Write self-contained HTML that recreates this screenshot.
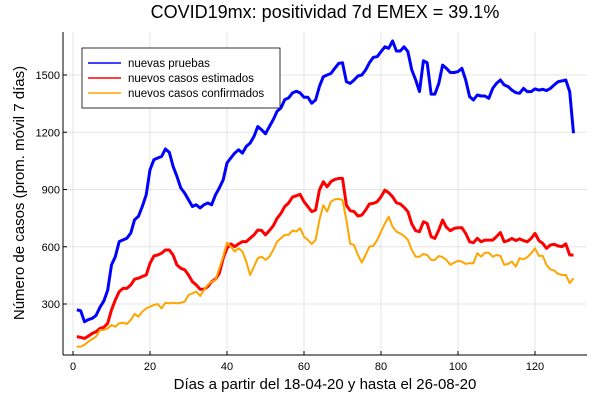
<!DOCTYPE html>
<html><head><meta charset="utf-8"><style>
body{margin:0;background:#fff}
svg{font-family:"Liberation Sans","DejaVu Sans",sans-serif}
</style></head><body>
<svg id="chart" width="600" height="400">
<text x="325" y="18" text-anchor="middle" font-size="18">COVID19mx: positividad 7d EMEX = 39.1%</text>
<g id="grid"></g>
<g id="ticks"></g>
<g id="series"></g>
<line x1="63" y1="32" x2="63" y2="355" stroke="#000"/>
<line x1="63" y1="355" x2="587" y2="355" stroke="#000"/>
<text x="325" y="389" text-anchor="middle" font-size="15">Días a partir del 18-04-20 y hasta el 26-08-20</text>
<text transform="translate(24,193) rotate(-90)" text-anchor="middle" font-size="15">Número de casos (prom. móvil 7 días)</text>
<g>
<rect x="82" y="48" width="198" height="60" fill="#fff" stroke="#000" stroke-width="0.8"/>
<g><line x1="88" y1="63" x2="121" y2="63" stroke="#0000ff" stroke-width="1.5"/><text x="128" y="67" font-size="11.5">nuevas pruebas</text></g>
<g><line x1="88" y1="78" x2="121" y2="78" stroke="#ff0000" stroke-width="1.5"/><text x="128" y="82" font-size="11.5">nuevos casos estimados</text></g>
<g><line x1="88" y1="93" x2="121" y2="93" stroke="#ffa500" stroke-width="1.5"/><text x="128" y="97" font-size="11.5">nuevos casos confirmados</text></g>
</g>
</svg>
<script>
const xTicks=[0,20,40,60,80,100,120];
const yTicks=[300,600,900,1200,1500];
const pruebas=[269,265,207,218,225,240,283,315,373,505,548,627,636,645,672,742,759,811,872,1003,1056,1065,1073,1112,1095,1021,969,908,881,846,811,820,803,820,829,820,872,908,951,1039,1065,1091,1108,1091,1126,1143,1178,1230,1213,1192,1230,1266,1310,1327,1371,1380,1406,1415,1406,1383,1383,1352,1369,1439,1491,1500,1508,1535,1561,1564,1465,1456,1474,1495,1500,1526,1564,1592,1596,1622,1648,1640,1678,1626,1626,1648,1622,1526,1474,1413,1575,1564,1400,1400,1456,1552,1535,1513,1513,1518,1535,1474,1387,1369,1395,1390,1390,1378,1430,1456,1474,1448,1439,1421,1408,1404,1430,1413,1413,1427,1421,1425,1418,1430,1448,1465,1469,1474,1413,1195];
const estimados=[129,125,120,132,146,155,172,178,199,269,321,365,382,382,400,430,435,444,452,513,552,557,566,583,583,557,505,487,479,452,417,400,377,377,391,417,430,461,540,592,615,601,615,627,627,645,662,688,685,662,685,709,749,775,811,829,860,867,875,836,810,784,792,897,941,914,941,953,958,958,818,789,784,761,766,792,824,827,836,862,897,883,862,831,824,806,784,719,684,679,731,722,653,644,688,740,702,684,696,700,700,670,626,621,644,626,635,635,635,653,674,626,632,644,632,641,632,626,644,670,632,618,592,609,613,604,601,615,557,557];
const confirmados=[77,77,86,103,116,129,164,164,172,190,181,199,202,195,216,248,234,260,277,286,295,300,277,307,303,307,303,307,312,347,356,365,342,373,400,417,426,487,548,622,601,575,592,575,522,452,496,540,548,531,548,583,627,645,662,662,685,680,697,653,636,615,636,740,818,784,836,848,850,845,740,615,609,557,517,557,601,604,636,679,722,757,705,679,670,656,636,583,548,548,562,557,531,531,552,545,531,505,517,526,522,510,514,514,566,548,569,569,548,557,552,505,510,522,496,540,534,545,566,592,552,552,505,482,475,458,452,452,409,435];
const NS='http://www.w3.org/2000/svg';
const L=63,R=587,T=32,B=355;
function xs(d){return 73+d*3.85;}
function ys(v){return 304-(v-300)*57.25/300;}
const grid=document.getElementById('grid'),ticks=document.getElementById('ticks'),ser=document.getElementById('series');
xTicks.forEach(t=>{
 const g=document.createElementNS(NS,'line');
 
 
 g.setAttribute('x1',xs(t));g.setAttribute('x2',xs(t));g.setAttribute('y1',T);g.setAttribute('y2',B);
 g.setAttribute('stroke','#000');g.setAttribute('stroke-opacity','0.1');grid.appendChild(g);
 const k=document.createElementNS(NS,'line');
 
 
 k.setAttribute('x1',xs(t));k.setAttribute('x2',xs(t));k.setAttribute('y1',B);k.setAttribute('y2',B-4);k.setAttribute('stroke','#000');ticks.appendChild(k);
 const tx=document.createElementNS(NS,'text');
 
 
 tx.setAttribute('x',xs(t));tx.setAttribute('y',370);tx.setAttribute('text-anchor','middle');tx.setAttribute('font-size','11');tx.textContent=t;ticks.appendChild(tx);
});
yTicks.forEach(t=>{
 const g=document.createElementNS(NS,'line');
 
 
 g.setAttribute('x1',L);g.setAttribute('x2',R);g.setAttribute('y1',ys(t));g.setAttribute('y2',ys(t));
 g.setAttribute('stroke','#000');g.setAttribute('stroke-opacity','0.1');grid.appendChild(g);
 const k=document.createElementNS(NS,'line');
 
 
 k.setAttribute('x1',L);k.setAttribute('x2',L+4);k.setAttribute('y1',ys(t));k.setAttribute('y2',ys(t));k.setAttribute('stroke','#000');ticks.appendChild(k);
 const tx=document.createElementNS(NS,'text');
 
 
 tx.setAttribute('x',L-3);tx.setAttribute('y',ys(t)+4);tx.setAttribute('text-anchor','end');tx.setAttribute('font-size','11');tx.textContent=t;ticks.appendChild(tx);
});
function draw(arr,color,w,name){
 const p=document.createElementNS(NS,'polyline');
 
 
 p.setAttribute('points',arr.map((v,i)=>xs(i+1).toFixed(1)+','+ys(v).toFixed(1)).join(' '));
 p.setAttribute('fill','none');p.setAttribute('stroke',color);p.setAttribute('stroke-width',w);p.setAttribute('stroke-linejoin','round');
 ser.appendChild(p);
}
draw(pruebas,'#0000ff',3,'line-nuevas-pruebas');
draw(estimados,'#ff0000',3,'line-casos-estimados');
draw(confirmados,'#ffa500',2,'line-casos-confirmados');
</script>
</body></html>
